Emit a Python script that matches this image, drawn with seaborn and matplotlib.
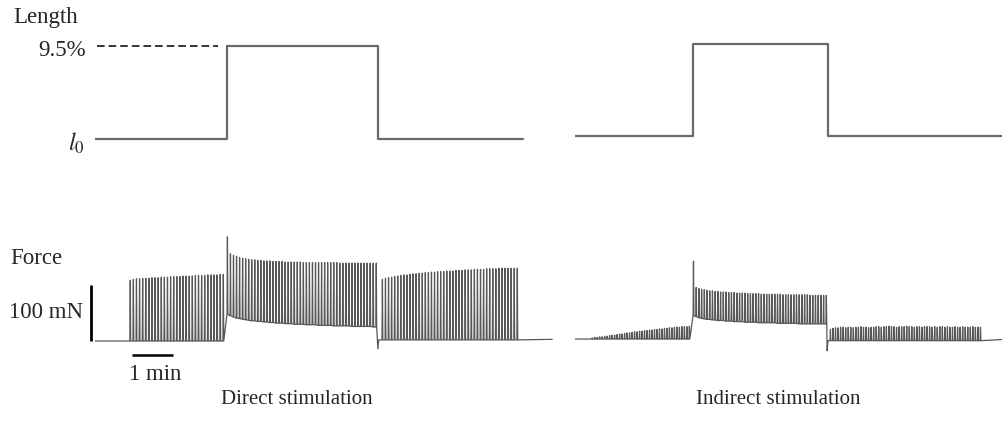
import numpy as np
import pandas as pd
import matplotlib
matplotlib.use("Agg")
import matplotlib.pyplot as plt
import seaborn as sns

# ---------------- data ----------------
# length protocol (% stretch above l0), times in minutes
stretch_pct = 9.5
len_direct_t = [0.0, 3.22, 3.22, 6.90, 6.90, 10.44]
len_direct_v = [0.0, 0.0, 9.5, 9.5, 0.0, 0.0]
len_indirect_t = [0.0, 2.88, 2.88, 6.17, 6.17, 10.44]
len_indirect_v = [0.0, 0.0, 9.5, 9.5, 0.0, 0.0]

# Direct stimulation force (mN): pulse peaks per segment
d_seg1_window = [0.85, 3.12]
d_seg1_peaks = [108, 110, 111, 111, 112, 112, 112, 113, 113, 113, 114, 114, 114, 115, 115,
                115, 115, 116, 116, 116, 116, 117, 117, 117, 117, 118, 118, 118, 118, 119, 119]
d_seg1_trough = 0
d_seg2_window = [3.22, 6.85]
d_seg2_peaks = [186, 156, 153, 151, 149, 148, 147, 146, 145, 145, 144, 144, 143, 143, 143,
                142, 142, 142, 142, 141, 141, 141, 141, 141, 141, 140, 140, 140, 140, 140,
                140, 140, 140, 140, 140, 140, 140, 139, 139, 139, 139, 139, 139, 139, 139,
                139, 139, 139, 139, 139]
d_seg2_troughs = [48, 45, 43, 41, 40, 39, 38, 37, 36, 36, 35, 35, 34, 34, 33, 33, 32, 32, 32, 31,
                  31, 31, 30, 30, 30, 30, 29, 29, 29, 29, 28, 28, 28, 28, 28, 27, 27, 27, 27, 27,
                  27, 26, 26, 26, 26, 26, 26, 26, 25, 25]
d_release = [6.90, -14]
d_seg3_window = [7.00, 10.29]
d_seg3_peaks = [110, 112, 113, 114, 115, 116, 117, 118, 118, 119, 120, 120, 121, 121, 122,
                122, 123, 123, 124, 124, 124, 125, 125, 125, 126, 126, 126, 127, 127, 127,
                128, 128, 128, 128, 129, 129, 129, 129, 130, 130, 130, 130, 130, 130, 130]
d_seg3_trough = 2
d_end = [11.15, 3]

# Indirect stimulation force (mN)
i_seg1_window = [0.41, 2.78]
i_seg1_peaks = [2, 3, 3, 4, 4, 5, 5, 6, 7, 7, 8, 9, 9, 10, 11, 11, 12, 13, 13, 14,
                14, 15, 15, 16, 16, 17, 17, 18, 18, 19, 19, 20, 20, 21, 21, 21, 22, 22, 22, 23]
i_seg1_trough = 0
i_seg2_window = [2.88, 6.12]
i_seg2_peaks = [139, 92, 90, 89, 88, 87, 86, 86, 85, 85, 84, 84, 84, 83, 83, 83, 82, 82, 82, 82,
                81, 81, 81, 81, 81, 80, 80, 80, 80, 80, 80, 80, 80, 79, 79, 79, 79, 79, 79, 79,
                79, 79, 79, 78, 78, 78, 78, 78, 78, 78]
i_seg2_troughs = [42, 40, 38, 37, 36, 35, 35, 34, 34, 33, 33, 33, 32, 32, 32, 31, 31, 31, 31, 30,
                  30, 30, 30, 30, 29, 29, 29, 29, 29, 29, 29, 28, 28, 28, 28, 28, 28, 28, 28, 27,
                  27, 27, 27, 27, 27, 27, 27, 27, 27, 27]
i_release = [6.15, -21]
i_seg3_window = [6.22, 9.88]
i_seg3_peaks = [17, 19, 20, 20, 21, 21, 20, 21, 21, 20, 21, 21, 22, 21, 21, 20, 21, 21, 22, 22,
                21, 22, 22, 23, 22, 22, 21, 22, 22, 22, 23, 22, 22, 21, 22, 22, 21, 22, 22, 22,
                21, 22, 21, 22, 22, 21, 22, 21, 21, 22, 21, 21, 22, 21, 21, 21, 22, 21, 21, 21]
i_seg3_trough = -3
i_end = [10.41, -1]

scale_force = 100   # mN
scale_time = 1      # min

# ---------------- styling ----------------
sns.set_theme(style="white")
plt.rcParams["font.family"] = ["Liberation Serif", "DejaVu Serif"]
plt.rcParams["mathtext.fontset"] = "stix"

W, H = 1003, 427
fig = plt.figure(figsize=(W / 100, H / 100), dpi=100)


def add_ax(x0, y0, x1, y1):
    ax = fig.add_axes([x0 / W, 1 - y1 / H, (x1 - x0) / W, (y1 - y0) / H])
    ax.set_axis_off()
    return ax


def ftext(x, y, s, **kw):
    fig.text(x / W, 1 - y / H, s, **kw)


def pulse_trace(window, peaks, troughs):
    n = len(peaks)
    times = np.linspace(window[0], window[1], n)
    if np.isscalar(troughs):
        troughs = [troughs] * n
    w = 0.010
    ts, vs = [], []
    for t, p, b in zip(times, peaks, troughs):
        ts += [t, t + w, t + 2 * w]
        vs += [b, p, b]
    return ts, vs


def force_df(start_val, s1, s2, rel, s3, end):
    t1, v1 = pulse_trace(*s1)
    t2, v2 = pulse_trace(*s2)
    t3, v3 = pulse_trace(*s3)
    ts = [0.0] + t1 + t2 + [rel[0], rel[0] + 0.02] + t3 + [end[0]]
    vs = [start_val] + v1 + v2 + [rel[1], s3[2] if np.isscalar(s3[2]) else s3[2][0]] + v3 + [end[1]]
    return pd.DataFrame({"t": ts, "force": vs})


trace_col = "#585858"
len_col = "#6a6a6a"

# ---------------- length panels ----------------
axLd = add_ax(95, 30, 555, 150)
axLd.set_xlim(0, 460 / 41)
axLd.set_ylim(-1.02, 11.24)
sns.lineplot(data=pd.DataFrame({"t": len_direct_t, "len": len_direct_v}), x="t", y="len",
             ax=axLd, sort=False, estimator=None, color=len_col, lw=1.6)
axLd.plot([0.05, 3.0], [stretch_pct, stretch_pct], ls=(0, (5, 2.6)), color="black", lw=1.1)
axLd.set_axis_off()

axLi = add_ax(575, 30, 1003, 150)
axLi.set_xlim(0, 428 / 41)
axLi.set_ylim(-1.34, 11.05)
sns.lineplot(data=pd.DataFrame({"t": len_indirect_t, "len": len_indirect_v}), x="t", y="len",
             ax=axLi, sort=False, estimator=None, color=len_col, lw=1.6)
axLi.set_axis_off()

# ---------------- force panels ----------------
axFd = add_ax(95, 225, 555, 360)
axFd.set_xlim(0, 460 / 41)
axFd.set_ylim(-32.1, 208.9)
dfd = force_df(0, (d_seg1_window, d_seg1_peaks, d_seg1_trough),
               (d_seg2_window, d_seg2_peaks, d_seg2_troughs), d_release,
               (d_seg3_window, d_seg3_peaks, d_seg3_trough), d_end)
sns.lineplot(data=dfd, x="t", y="force", ax=axFd, sort=False, estimator=None,
             color=trace_col, lw=0.9)
# scale bars
axFd.plot([-0.098, -0.098], [0, scale_force], color="black", lw=2.0, clip_on=False,
          solid_capstyle="butt")
axFd.plot([0.90, 0.90 + scale_time], [-25, -25], color="black", lw=1.8, clip_on=False,
          solid_capstyle="butt")
axFd.set_axis_off()

axFi = add_ax(575, 225, 1003, 360)
axFi.set_xlim(0, 428 / 41)
axFi.set_ylim(-35.7, 205.4)
dfi = force_df(0, (i_seg1_window, i_seg1_peaks, i_seg1_trough),
               (i_seg2_window, i_seg2_peaks, i_seg2_troughs), i_release,
               (i_seg3_window, i_seg3_peaks, i_seg3_trough), i_end)
sns.lineplot(data=dfi, x="t", y="force", ax=axFi, sort=False, estimator=None,
             color=trace_col, lw=0.9)
axFi.set_axis_off()

# ---------------- text ----------------
fs = 16.5
fs_title = 15
ftext(13, 18, "Length", ha="left", va="center", fontsize=fs)
ftext(86, 50, "9.5%", ha="right", va="center", fontsize=fs)
ftext(85, 143, r"$l_0$", ha="right", va="center", fontsize=fs + 1)
ftext(10, 258, "Force", ha="left", va="center", fontsize=fs)
ftext(83, 312, "100 mN", ha="right", va="center", fontsize=fs)
ftext(155, 375, "1 min", ha="center", va="center", fontsize=fs)
ftext(297, 400, "Direct stimulation", ha="center", va="center", fontsize=fs_title)
ftext(778, 400, "Indirect stimulation", ha="center", va="center", fontsize=fs_title)

fig.savefig("out.png", dpi=100)
